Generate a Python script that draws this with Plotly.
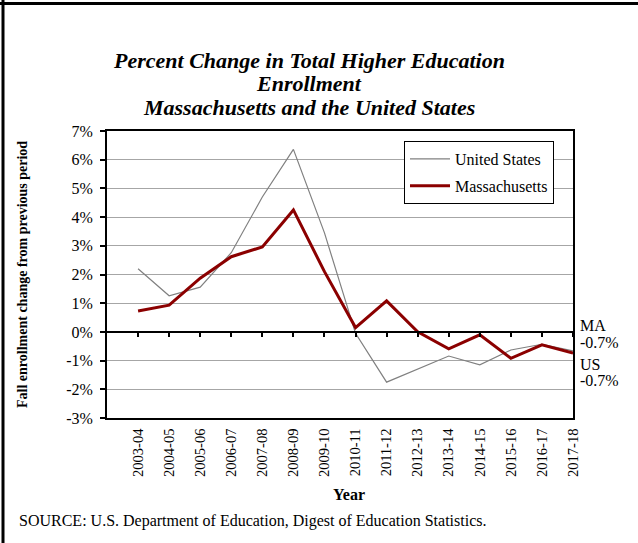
import plotly.graph_objects as go

# --- data -------------------------------------------------------------
years = ["2003-04", "2004-05", "2005-06", "2006-07", "2007-08", "2008-09",
         "2009-10", "2010-11", "2011-12", "2012-13", "2013-14", "2014-15",
         "2015-16", "2016-17", "2017-18"]
us_change = [2.2, 1.26, 1.56, 2.76, 4.7, 6.36, 3.45, -0.05, -1.75, -1.3,
             -0.84, -1.15, -0.63, -0.43, -0.66]
ma_change = [0.73, 0.93, 1.87, 2.62, 2.96, 4.25, 2.1, 0.15, 1.08, 0.0,
             -0.59, -0.1, -0.92, -0.45, -0.74]
y_ticks = [-3, -2, -1, 0, 1, 2, 3, 4, 5, 6, 7]

title_lines = ["Percent Change in Total Higher Education", "Enrollment",
               "Massachusetts and the United States"]
source_note = "SOURCE: U.S. Department of Education, Digest of Education Statistics."

# --- page geometry ----------------------------------------------------
W_PAGE, H_PAGE = 638, 543
L, R, T, B = 107, 573, 131, 418          # plot area edges in pixels
PW, PH = R - L, B - T
FONT = "Liberation Serif"
US_COLOR = "#808080"
MA_COLOR = "#8B0000"


def fx(px):
    """pixel x -> paper x"""
    return (px - L) / PW


def fy(py):
    """pixel y (from top) -> paper y"""
    return (B - py) / PH


idx = list(range(len(years)))
y_min, y_max = min(y_ticks), max(y_ticks)
x_range = [-1, len(years) - 1]

fig = go.Figure()
fig.add_trace(go.Scatter(x=idx, y=us_change, name="United States", mode="lines",
                         line=dict(color=US_COLOR, width=1.2),
                         legendgroup="us"))
fig.add_trace(go.Scatter(x=idx, y=ma_change, name="Massachusetts", mode="lines",
                         line=dict(color=MA_COLOR, width=3),
                         legendgroup="ma"))
# carrier trace for the zero-line axis with its category ticks
fig.add_trace(go.Scatter(x=[idx[0]], y=[0], xaxis="x2", mode="none",
                         showlegend=False, hoverinfo="skip"))

fig.update_layout(
    width=W_PAGE, height=H_PAGE,
    margin=dict(l=L, r=W_PAGE - R, t=T, b=H_PAGE - B),
    paper_bgcolor="white", plot_bgcolor="white",
    font=dict(family=FONT, color="black", size=16),
    showlegend=True,
    legend=dict(x=fx(404), y=fy(141), xanchor="left", yanchor="top",
                bgcolor="white", bordercolor="black", borderwidth=1,
                font=dict(family=FONT, size=16),
                traceorder="grouped", tracegroupgap=3,
                itemwidth=40),
    xaxis=dict(range=x_range, tickmode="array", tickvals=idx, ticktext=years,
               tickangle=-90, ticks="", showgrid=False, zeroline=False,
               showline=True, linecolor="black", linewidth=1.5, mirror=True,
               ticklabelstandoff=3,
               tickfont=dict(family=FONT, size=14.5)),
    xaxis2=dict(range=x_range, overlaying="x", anchor="free",
                position=(0 - y_min) / (y_max - y_min), side="bottom",
                tickmode="array", tickvals=idx, ticks="outside", ticklen=4,
                tickwidth=1.5, tickcolor="black", showticklabels=False,
                showgrid=False, zeroline=False, showline=True,
                linecolor="black", linewidth=1.5),
    yaxis=dict(range=[y_min, y_max], tickmode="array", tickvals=y_ticks,
               ticktext=[f"{v}%" for v in y_ticks], ticks="outside", ticklen=5,
               tickcolor="black", tickwidth=1.5, showgrid=True,
               gridcolor="#a6a6a6", gridwidth=1, zeroline=False,
               showline=True, linecolor="black", linewidth=2, mirror=True,
               ticklabelstandoff=4,
               tickfont=dict(family=FONT, size=16)),
)

annotations = []
# chart title, one annotation per line for tight line spacing
for i, line in enumerate(title_lines):
    annotations.append(dict(text=f"<b><i>{line}</i></b>", xref="paper", yref="paper",
                            x=fx(309), y=fy(60 + 23.5 * i), xanchor="center",
                            yanchor="middle", showarrow=False,
                            font=dict(family=FONT, size=22)))
# axis titles
annotations.append(dict(text="<b>Fall enrollment change from previous period</b>",
                        xref="paper", yref="paper", x=fx(22), y=fy(275),
                        xanchor="center", yanchor="middle", textangle=-90,
                        showarrow=False, font=dict(family=FONT, size=14)))
annotations.append(dict(text="<b>Year</b>", xref="paper", yref="paper",
                        x=fx(349), y=fy(494), xanchor="center", yanchor="middle",
                        showarrow=False, font=dict(family=FONT, size=16)))
# end-of-series labels: name line and value line, tight spacing
end_labels = [("MA", ma_change[-1], 28, 11), ("US", us_change[-1], -14, -30)]
for name, val, name_shift, val_shift in end_labels:
    for text, shift in ((name, name_shift), (f"{val:.1f}%", val_shift)):
        annotations.append(dict(text=text, xref="paper", yref="y", x=1, y=val,
                                xanchor="left", yanchor="middle", xshift=5,
                                yshift=shift, showarrow=False,
                                font=dict(family=FONT, size=16)))
# source note
annotations.append(dict(text=source_note, xref="paper", yref="paper",
                        x=fx(17), y=fy(521), xanchor="left", yanchor="middle",
                        showarrow=False, font=dict(family=FONT, size=16)))
fig.update_layout(annotations=annotations)

# page frame: rule along the top and left edges
fig.add_shape(type="line", xref="paper", yref="paper",
              x0=fx(0), x1=fx(W_PAGE), y0=fy(3.5), y1=fy(3.5),
              line=dict(color="black", width=3))
fig.add_shape(type="line", xref="paper", yref="paper",
              x0=fx(3), x1=fx(3), y0=fy(0), y1=fy(H_PAGE),
              line=dict(color="black", width=3))

fig.write_html("out.html")
